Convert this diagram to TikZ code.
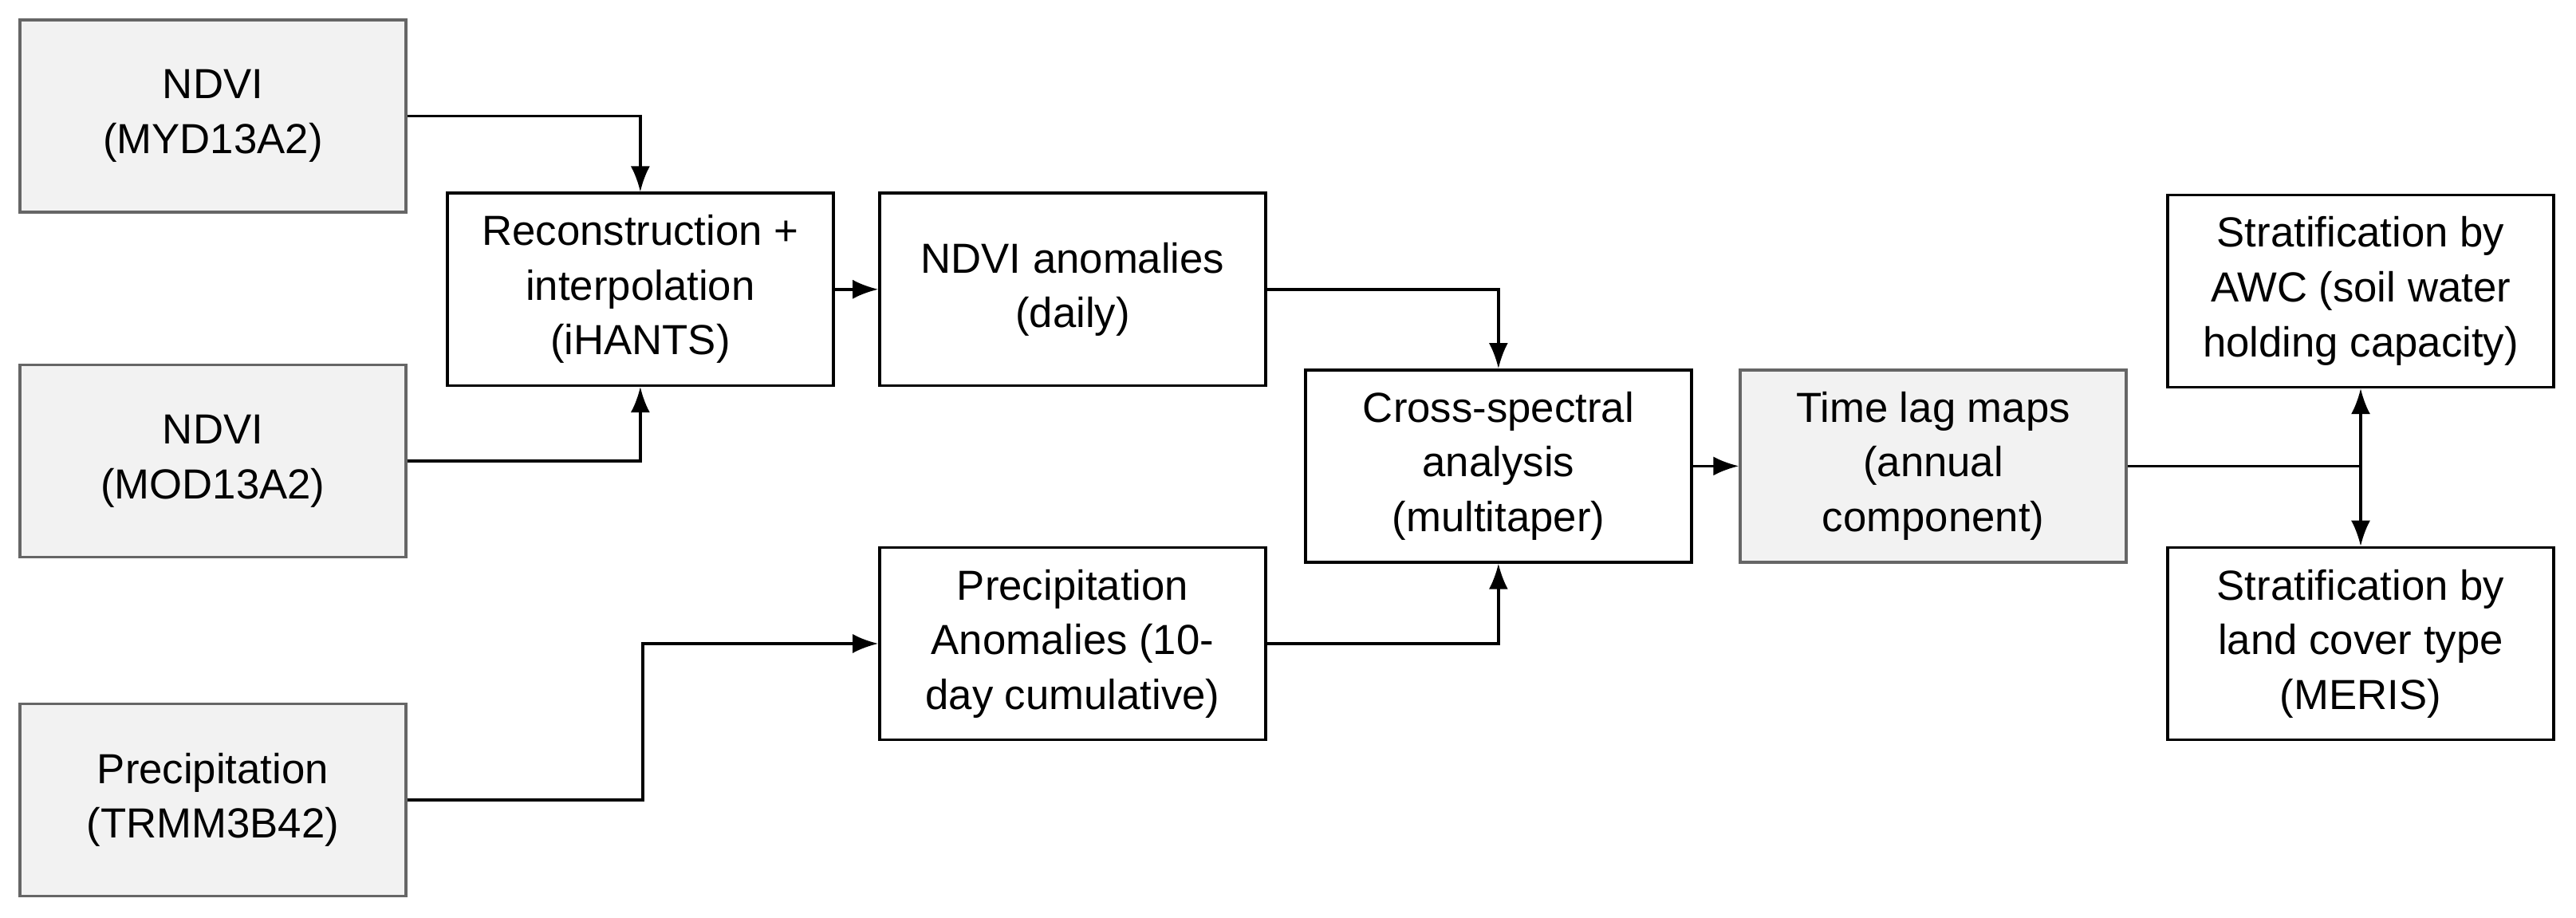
\documentclass[tikz,border=0pt]{standalone}
\usepackage{fontspec}
\setmainfont{Liberation Sans}
\usetikzlibrary{arrows.meta}
\begin{document}
\begin{tikzpicture}[x=0.2061mm,y=-0.2061mm]
\tikzset{box/.style={draw=black,line width=1pt,minimum width=48.4mm,minimum height=24.1mm,
  align=center,inner sep=0pt,font=\fontsize{15}{19.5}\selectfont},
  src/.style={box,draw=black!60,fill=black!5},
  link/.style={line width=1pt,-{Latex[length=3.2mm,width=2.4mm]}}}
\useasboundingbox (0,0) rectangle (1567,558);
\node [src] (myd) at (129.5,70.5) {NDVI\\(MYD13A2)};
\node [src] (mod) at (129.5,280.5) {NDVI\\(MOD13A2)};
\node [src] (trmm) at (129.5,486.5) {Precipitation\\(TRMM3B42)};
\node [box] (rec) at (389.5,176) {Reconstruction +\\interpolation\\(iHANTS)};
\node [box] (nano) at (652.5,176) {NDVI anomalies\\(daily)};
\node [box] (pano) at (652.5,391.5) {Precipitation\\Anomalies (10-\\day cumulative)};
\node [box] (csa) at (911.5,283.5) {Cross-spectral\\analysis\\(multitaper)};
\node [src] (lag) at (1176,283.5) {Time lag maps\\(annual\\component)};
\node [box] (awc) at (1436,177) {Stratification by\\AWC (soil water\\holding capacity)};
\node [box] (lc) at (1436,391.5) {Stratification by\\land cover type\\(MERIS)};
% connectors
\draw [link] (myd.east) -| (rec.north);
\draw [link] (mod.east) -| (rec.south);
\draw [link] (rec) -- (nano);
\draw [link] (nano.east) -| (csa.north);
\draw [link] (trmm.east) -- (391,486.5) |- (pano.west);
\draw [link] (pano.east) -| (csa.south);
\draw [link] (csa) -- (lag);
\coordinate (fork) at (1436,283.5);
\draw [line width=1pt] (lag.east) -- (fork);
\draw [link] (fork) -- (awc.south);
\draw [link] (fork) -- (lc.north);
\end{tikzpicture}
\end{document}
